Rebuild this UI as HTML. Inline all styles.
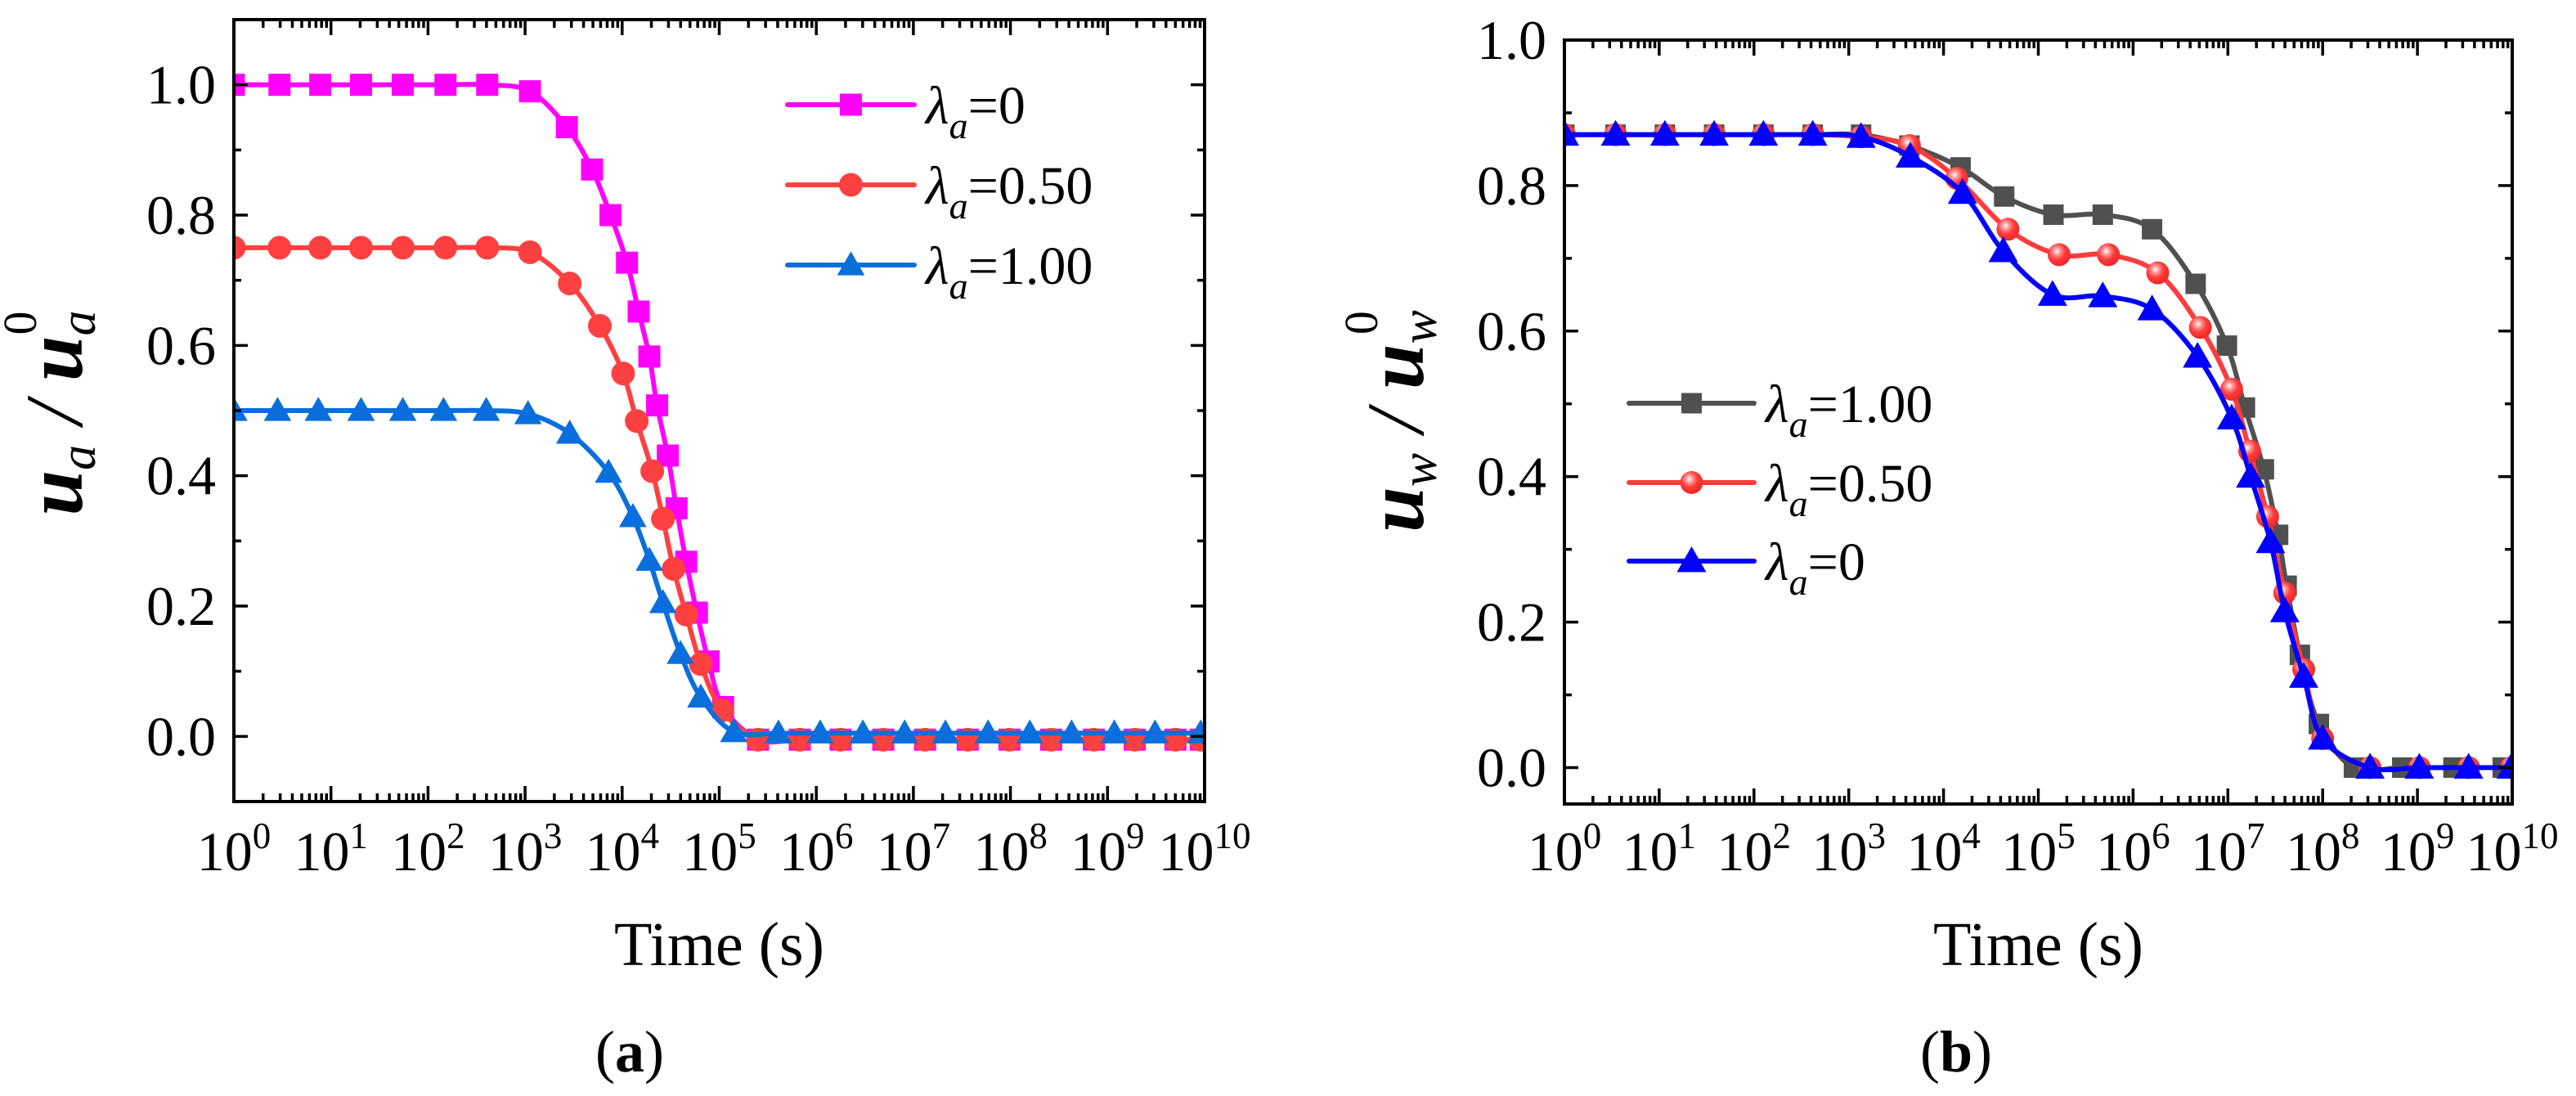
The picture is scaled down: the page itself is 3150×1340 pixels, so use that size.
<!DOCTYPE html>
<html><head><meta charset="utf-8">
<style>
html,body{margin:0;padding:0;background:#fff;}
svg, svg text, svg tspan{font-family:"Liberation Serif","Times New Roman","DejaVu Serif",serif;}
</style></head>
<body>
<svg id="fig" xmlns="http://www.w3.org/2000/svg" width="3150" height="1335" viewBox="0 0 3150 1335" font-family="Liberation Serif, serif">
<defs>
<radialGradient id="ballGrad" cx="0.4" cy="0.35" r="0.6">
<stop offset="0" stop-color="#ffffff"/>
<stop offset="0.25" stop-color="#ff9a9a"/>
<stop offset="0.6" stop-color="#ff3b3b"/>
<stop offset="1" stop-color="#ee2a2a"/>
</radialGradient>
</defs>
</svg>
<script>
// ---------- Panel (a) data : x = log10(time), y = u_a/u_a0 ----------
const aMagX = [0,0.47,0.89,1.31,1.74,2.18,2.61,3.05,3.43,3.69,3.88,4.05,4.17,4.28,4.36,4.47,4.56,4.66,4.77,4.89,5.04,5.4,5.83,6.25,6.69,7.12,7.56,7.99,8.42,8.86,9.28,9.7,9.96];
const aMagY = [1,1,1,1,1,1,1,0.99,0.935,0.87,0.8,0.727,0.652,0.583,0.508,0.431,0.35,0.268,0.19,0.115,0.045,-0.005,-0.005,-0.005,-0.005,-0.005,-0.005,-0.005,-0.005,-0.005,-0.005,-0.005,-0.005];
const aRedX = [0,0.47,0.89,1.31,1.74,2.18,2.61,3.05,3.46,3.77,4.01,4.15,4.31,4.42,4.53,4.66,4.81,5.03,5.4,5.83,6.25,6.69,7.12,7.56,7.99,8.42,8.86,9.28,9.7,9.96];
const aRedY = [0.75,0.75,0.75,0.75,0.75,0.75,0.75,0.743,0.695,0.63,0.557,0.484,0.407,0.334,0.257,0.187,0.111,0.04,-0.005,-0.005,-0.005,-0.005,-0.005,-0.005,-0.005,-0.005,-0.005,-0.005,-0.005,-0.005];
const aBluX = [0,0.45,0.87,1.31,1.74,2.16,2.6,3.03,3.46,3.86,4.11,4.28,4.42,4.6,4.81,5.15,5.61,6.04,6.48,6.91,7.33,7.77,8.2,8.63,9.07,9.49,9.96];
const aBluY = [0.5,0.5,0.5,0.5,0.5,0.5,0.5,0.495,0.465,0.405,0.337,0.27,0.205,0.127,0.06,0.007,0.005,0.005,0.005,0.005,0.005,0.005,0.005,0.005,0.005,0.005,0.005];
const aLegend = ["0","0.50","1.00"];
// ---------- Panel (b) data ----------
const bGryX = [0,0.54,1.06,1.58,2.1,2.62,3.13,3.64,4.18,4.64,5.16,5.68,6.2,6.66,6.99,7.18,7.38,7.53,7.62,7.76,7.96,8.33,8.84,9.38,9.9];
const bGryY = [0.87,0.87,0.87,0.87,0.87,0.87,0.87,0.855,0.825,0.785,0.76,0.76,0.74,0.665,0.58,0.495,0.41,0.32,0.25,0.155,0.06,0,0,0,0];
const bRedX = [0,0.54,1.06,1.58,2.1,2.62,3.13,3.64,4.14,4.68,5.22,5.74,6.26,6.71,7.04,7.23,7.42,7.6,7.8,8.0,8.5,9.02,9.54,9.99];
const bRedY = [0.87,0.87,0.87,0.87,0.87,0.87,0.867,0.855,0.81,0.74,0.705,0.705,0.68,0.605,0.52,0.435,0.345,0.24,0.135,0.04,0,0,0,0];
const bBluX = [0,0.54,1.06,1.58,2.1,2.62,3.13,3.65,4.2,4.63,5.15,5.68,6.2,6.68,7.04,7.24,7.45,7.6,7.8,8.0,8.5,9.02,9.54,9.99];
const bBluY = [0.87,0.87,0.87,0.87,0.87,0.87,0.867,0.84,0.79,0.71,0.65,0.648,0.63,0.565,0.48,0.4,0.31,0.215,0.125,0.04,0,0,0,0];
const bLegend = ["1.00","0.50","0"];
const xTickExps = ["0","1","2","3","4","5","6","7","8","9","10"];
const aYTicks = ["0.0","0.2","0.4","0.6","0.8","1.0"];
const bYTicks = ["0.0","0.2","0.4","0.6","0.8","1.0"];

const NS = "http://www.w3.org/2000/svg";
const SERIF = "Liberation Serif, Times New Roman, serif";
const svg = document.getElementById("fig");
function mk(tag, attrs, parent){ const e=document.createElementNS(NS,tag); for(const k in attrs) e.setAttribute(k,attrs[k]); if(tag==="text") e.setAttribute("font-family",SERIF); (parent||svg).appendChild(e); return e; }

function smoothPath(pts){
  let d = "M"+pts[0][0]+","+pts[0][1];
  for(let i=0;i<pts.length-1;i++){
    const p0=pts[Math.max(0,i-1)], p1=pts[i], p2=pts[i+1], p3=pts[Math.min(pts.length-1,i+2)];
    const c1x=p1[0]+(p2[0]-p0[0])/6, c1y=p1[1]+(p2[1]-p0[1])/6;
    const c2x=p2[0]-(p3[0]-p1[0])/6, c2y=p2[1]-(p3[1]-p1[1])/6;
    d+=" C"+c1x+","+c1y+" "+c2x+","+c2y+" "+p2[0]+","+p2[1];
  }
  return d;
}
function marker(g, shape, cx, cy, color, s){
  let e;
  if(shape==="square"){ e=mk("rect",{x:cx-s/2,y:cy-s/2,width:s,height:s,fill:color},g); }
  else if(shape==="circle"){ e=mk("circle",{cx:cx,cy:cy,r:s/2,fill:color},g); }
  else if(shape==="ball"){ e=mk("circle",{cx:cx,cy:cy,r:s/2,fill:"url(#ballGrad)"},g); }
  else { e=mk("polygon",{points:(cx)+","+(cy-s*0.6)+" "+(cx-s*0.6)+","+(cy+s*0.45)+" "+(cx+s*0.6)+","+(cy+s*0.45),fill:color},g); }
  
  
  return e;
}

function panel(cfg){
  const {L,R,T,B,ymin,ymax,id} = cfg;
  const g = mk("g",{});
  
  
  const X = v => L + (v/10)*(R-L);
  const Y = v => B - (v-ymin)/(ymax-ymin)*(B-T);
  const clip = mk("clipPath",{id:id+"clip"},g);
  mk("rect",{x:L,y:T,width:R-L,height:B-T},clip);
  cfg.series.forEach(s=>{
    const sg = mk("g",{"clip-path":"url(#"+id+"clip)"},g);
    
    
    const pts = s.x.map((v,i)=>[X(v),Y(s.y[i])]);
    const p = mk("path",{d:smoothPath(pts),fill:"none",stroke:s.color,"stroke-width":6,"stroke-linejoin":"round"},sg);
    
    
    s.shown = {sg, pts};
  });
  cfg.series.forEach(s=>{
    s.shown.pts.forEach(pt=>marker(s.shown.sg,s.shape,pt[0],pt[1],s.color,s.size));
  });
  const fr = mk("rect",{x:L,y:T,width:R-L,height:B-T,fill:"none",stroke:"#000","stroke-width":4},g);
  
  
  const tg = mk("g",{stroke:"#000","stroke-width":3.5},g);
  
  
  for(let d=0; d<=10; d++){
    const x=X(d);
    mk("line",{x1:x,y1:B,x2:x,y2:B-19},tg); mk("line",{x1:x,y1:T,x2:x,y2:T+19},tg);
    if(d<10) for(let m=2;m<=9;m++){ const xm=X(d+Math.log10(m)); mk("line",{x1:xm,y1:B,x2:xm,y2:B-10},tg); mk("line",{x1:xm,y1:T,x2:xm,y2:T+10},tg); }
  }
  for(let v=Math.ceil(ymin*10); v<=Math.floor(ymax*10); v++){
    const y=Y(v/10); const len = (v%2===0)?17:9;
    mk("line",{x1:L,y1:y,x2:L+len,y2:y},tg); mk("line",{x1:R,y1:y,x2:R-len,y2:y},tg);
  }
  xTickExps.forEach((e,i)=>{
    const t = mk("text",{x:X(i),y:1064,"font-size":68,"text-anchor":"middle",fill:"#000"},g);
    
    
    t.appendChild(document.createTextNode("10"));
    const s = mk("tspan",{dy:-27,"font-size":45},t); s.textContent=e;
  });
  cfg.yTicks.forEach(lbl=>{
    const t = mk("text",{x:L-22,y:Y(parseFloat(lbl))+23,"font-size":68,"text-anchor":"end",fill:"#000"},g);
    
    
    t.textContent=lbl;
  });
  const xt = mk("text",{x:(L+R)/2,y:1180,"font-size":76,"text-anchor":"middle",fill:"#000"},g);
  
  
  xt.textContent="Time (s)";
  const yt = mk("text",{transform:"translate("+cfg.ytx+","+cfg.yty+") rotate(-90)","font-size":100,"text-anchor":"middle",fill:"#000","font-style":"italic"},g);
  
  
  let s1=mk("tspan",{"font-weight":"bold"},yt); s1.textContent="u";
  s1=mk("tspan",{"font-size":62,dy:16},yt); s1.textContent=cfg.sub;
  s1=mk("tspan",{"font-size":100,dy:-16},yt); s1.textContent=" / ";
  s1=mk("tspan",{"font-weight":"bold"},yt); s1.textContent="u";
  s1=mk("tspan",{"font-size":62,dy:16},yt); s1.textContent=cfg.sub;
  s1=mk("tspan",{"font-size":58,"font-style":"normal",dx:-30,dy:-72},yt); s1.textContent="0";
  const lg = mk("g",{},g);
  
  
  cfg.series.forEach((s,i)=>{
    const y = cfg.legY[i];
    const eg = mk("g",{},lg);
    
    
    mk("line",{x1:cfg.legX1,y1:y,x2:cfg.legX2,y2:y,stroke:s.color,"stroke-width":6,"stroke-linecap":"round"},eg);
    marker(eg,s.shape,(cfg.legX1+cfg.legX2)/2,y,s.color,s.size);
    const t = mk("text",{x:cfg.legX2+14,y:y+23,"font-size":66,fill:"#000"},eg);
    let a=mk("tspan",{"font-style":"italic"},t); a.textContent="λ";
    a=mk("tspan",{"font-style":"italic","font-size":46,dy:18},t); a.textContent="a";
    a=mk("tspan",{dy:-18},t); a.textContent="="+cfg.legend[i];
  });
  const pl = mk("text",{x:cfg.plx,y:1310,"font-size":72,"text-anchor":"middle",fill:"#000"},g);
  
  
  pl.appendChild(document.createTextNode("("));
  const bb=mk("tspan",{"font-weight":"bold"},pl); bb.textContent=cfg.letter;
  pl.appendChild(document.createTextNode(")"));
}

panel({id:"a",L:286,R:1473,T:24,B:980,ymin:-0.1,ymax:1.1,yTicks:aYTicks,sub:"a",ytx:100,yty:505,
  legX1:963,legX2:1118,legY:[128,226,324],legend:aLegend,plx:770,letter:"a",
  series:[
    {name:"lambda-0",x:aMagX,y:aMagY,color:"#ff00ff",shape:"square",size:27},
    {name:"lambda-0.50",x:aRedX,y:aRedY,color:"#ff4040",shape:"circle",size:29},
    {name:"lambda-1.00",x:aBluX,y:aBluY,color:"#0a6fdc",shape:"triangle",size:28}
  ]});
panel({id:"b",L:1913,R:3072,T:49,B:983,ymin:-0.05,ymax:1.0,yTicks:bYTicks,sub:"w",ytx:1740,yty:515,
  legX1:1992,legX2:2145,legY:[493,590,686],legend:bLegend,plx:2392,letter:"b",
  series:[
    {name:"lambda-1.00",x:bGryX,y:bGryY,color:"#505050",shape:"square",size:25},
    {name:"lambda-0.50",x:bRedX,y:bRedY,color:"#ff3b3b",shape:"ball",size:28},
    {name:"lambda-0",x:bBluX,y:bBluY,color:"#0000ff",shape:"triangle",size:30}
  ]});
</script>
</body></html>
